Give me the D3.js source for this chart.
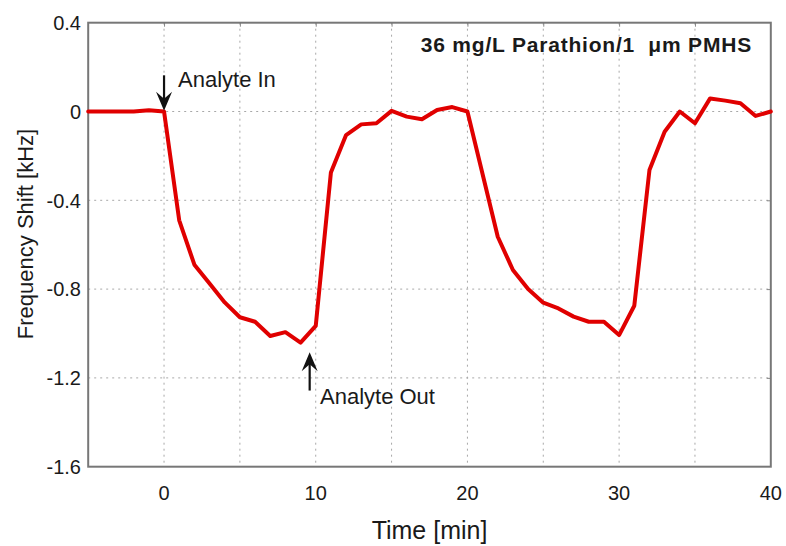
<!DOCTYPE html>
<html>
<head>
<meta charset="utf-8">
<script src="https://cdn.jsdelivr.net/npm/d3@7"></script>
<style>
  html, body { margin: 0; padding: 0; background: #fff; }
  svg { display: block; }
  text { font-family: "Liberation Sans", Arial, sans-serif; fill: #1a1a1a; }
</style>
</head>
<body>
<svg id="chart" width="786" height="546"></svg>
<script>
// ---- data ----
const timeMin = [-5,-4,-3,-2,-1,0,1,2,3,4,5,6,7,8,9,10,11,12,13,14,15,16,17,18,19,20,22,23,24,25,26,27,28,29,30,31,32,33,34,35,36,37,38,39,40];
const freqShift = [0,0,0,0,0.006,0,-0.49,-0.69,-0.775,-0.86,-0.927,-0.947,-1.011,-0.994,-1.041,-0.966,-0.275,-0.106,-0.058,-0.053,0.003,-0.023,-0.035,0.007,0.02,0,-0.564,-0.714,-0.80,-0.861,-0.887,-0.924,-0.947,-0.947,-1.007,-0.875,-0.264,-0.091,0,-0.053,0.059,0.049,0.037,-0.02,0];
const xTickLabels = [0,10,20,30,40];
const xGridValues = [0,5,10,15,20,25,30,35];
const xTickMarks = [0,5,10,15,20,25,30,35];
const yTickLabels = [0.4,0,-0.4,-0.8,-1.2,-1.6];
const yTickText = ["0.4","0","-0.4","-0.8","-1.2","-1.6"];
const titleText = "36 mg/L Parathion/1 \u00a0\u03bcm PMHS";
const xTitle = "Time [min]";
const yTitle = "Frequency Shift [kHz]";
const annotations = [
  {label: "Analyte In", t: 0, tipVal: 0.003, tailVal: 0.163, side: "down"},
  {label: "Analyte Out", t: 9.6, tipVal: -1.085, tailVal: -1.257, side: "up"}
];

// ---- layout ----
const svg = d3.select("#chart");
const L = 88.2, R = 770.8, T = 22.7, B = 466.7;
const x = d3.scaleLinear().domain([-5, 40]).range([L, R]);
const y = d3.scaleLinear().domain([-1.6, 0.4]).range([B, T]);

// grid
const grid = svg.append("g").attr("stroke", "#a8a8a8").attr("stroke-width", 1).attr("stroke-dasharray", "2,4");
grid.selectAll("line.v").data(xGridValues).join("line").attr("class","v")
  .attr("x1", d => x(d)).attr("x2", d => x(d)).attr("y1", T).attr("y2", B);
grid.selectAll("line.h").data(yTickLabels.filter(d => d < 0.4 && d > -1.6)).join("line").attr("class","h")
  .attr("x1", L).attr("x2", R).attr("y1", d => y(d)).attr("y2", d => y(d));

// short inward ticks on top and right
const tickLen = 4;
svg.append("g").attr("transform", `translate(0,${T})`)
  .call(d3.axisTop(x).tickValues(xTickMarks).tickSize(-tickLen).tickFormat(""))
  .call(g => g.select(".domain").remove());
svg.append("g").attr("transform", `translate(${R},0)`)
  .call(d3.axisRight(y).tickValues(yTickLabels.filter(d => d < 0.4 && d > -1.6)).tickSize(-tickLen).tickFormat(""))
  .call(g => g.select(".domain").remove());
svg.selectAll(".tick line").attr("stroke", "#888").attr("stroke-width", 1);

// frame
svg.append("rect").attr("x", L).attr("y", T).attr("width", R - L).attr("height", B - T)
  .attr("fill", "none").attr("stroke", "#777").attr("stroke-width", 2);

// tick labels
svg.append("g").selectAll("text").data(xTickLabels).join("text")
  .attr("x", d => x(d)).attr("y", B + 33).attr("text-anchor", "middle")
  .attr("font-size", 20).text(d => d);
svg.append("g").selectAll("text").data(yTickLabels).join("text")
  .attr("x", 81).attr("y", d => y(d)).attr("dy", "0.36em").attr("text-anchor", "end")
  .attr("font-size", 20).text((d, i) => yTickText[i]);

// axis titles
svg.append("text").attr("x", (L + R) / 2).attr("y", 539).attr("text-anchor", "middle")
  .attr("font-size", 25).text(xTitle);
svg.append("text").attr("transform", `translate(33,234) rotate(-90)`).attr("text-anchor", "middle")
  .attr("font-size", 22).text(yTitle);

// title
svg.append("text").attr("x", 752).attr("y", 51.5).attr("text-anchor", "end")
  .attr("font-size", 21).attr("font-weight", "bold").attr("letter-spacing", 0.8).text(titleText);

// data line
const line = d3.line().x((d, i) => x(timeMin[i])).y(d => y(d));
svg.append("path").datum(freqShift).attr("d", line)
  .attr("fill", "none").attr("stroke", "#e00000").attr("stroke-width", 4)
  .attr("stroke-linejoin", "round").attr("stroke-linecap", "round");

// annotations
annotations.forEach(a => {
  const ax = x(a.t), tip = y(a.tipVal), tail = y(a.tailVal);
  const dir = a.side === "down" ? -1 : 1;
  svg.append("line").attr("x1", ax).attr("x2", ax).attr("y1", tail).attr("y2", tip + dir * 8)
    .attr("stroke", "#111").attr("stroke-width", 2.2);
  svg.append("path")
    .attr("d", `M${ax},${tip} L${ax - 8},${tip + dir * 19} L${ax},${tip + dir * 12} L${ax + 8},${tip + dir * 19} Z`)
    .attr("fill", "#111");
  if (a.side === "down") {
    svg.append("text").attr("x", 178).attr("y", 87).attr("font-size", 22).text(a.label);
  } else {
    svg.append("text").attr("x", 320).attr("y", 404).attr("font-size", 22).text(a.label);
  }
});
</script>
</body>
</html>
